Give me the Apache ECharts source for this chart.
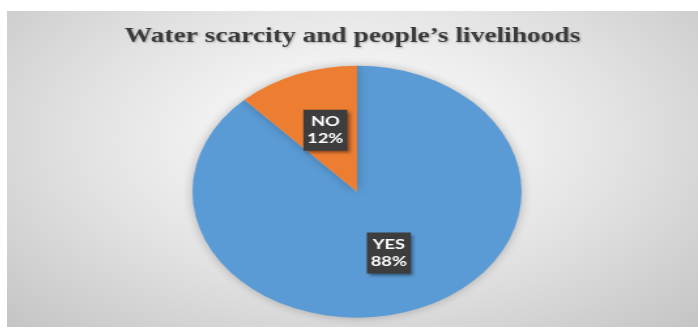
<!DOCTYPE html>
<html>
<head>
<meta charset="utf-8">
<script src="https://cdn.jsdelivr.net/npm/echarts@6/dist/echarts.min.js"></script>
<style>
html,body{margin:0;padding:0;background:#ffffff;width:698px;height:328px;overflow:hidden;}
#bg{position:absolute;left:7px;top:11px;width:691px;height:316px;
background:radial-gradient(ellipse farthest-corner at 50% 40%, #ffffff 0%, #f5f5f5 22%, #e2e2e2 55%, #c4c4c4 100%);}
#chart{position:absolute;left:7px;top:11px;width:529px;height:316px;transform:scaleX(1.3062);transform-origin:0 0;}
</style>
</head>
<body>
<div id="bg"></div>
<div id="chart"></div>
<script>
const titleText = "Water scarcity and people\u2019s livelihoods";
const categories = ["YES", "NO"];
const values = [88, 12];
const colors = ["#5B9BD5", "#ED7D31"];

const chart = echarts.init(document.getElementById('chart'), null, {renderer: 'canvas'});
chart.setOption({
  backgroundColor: 'transparent',
  animation: false,
  title: {
    text: titleText,
    left: 'center',
    top: 10,
    textStyle: {
      fontFamily: 'Liberation Serif',
      fontSize: 21,
      fontWeight: 'bold',
      color: '#3a3a3a',
      textShadowColor: 'rgba(0,0,0,0.25)',
      textShadowBlur: 2,
      textShadowOffsetX: 1,
      textShadowOffsetY: 1
    }
  },
  series: [{
    type: 'pie',
    center: [268, 180.7],
    radius: [0, 126],
    startAngle: 90,
    clockwise: true,
    silent: true,
    itemStyle: {
      borderWidth: 0,
      shadowBlur: 8,
      shadowColor: 'rgba(0,0,0,0.25)'
    },
    label: {
      show: true,
      position: 'inside',
      formatter: p => p.name + '\n' + p.value + '%',
      color: '#ffffff',
      fontFamily: 'Lato',
      fontWeight: 'bold',
      fontSize: 14,
      lineHeight: 17,
      backgroundColor: '#3d3d3d',
      padding: [4, 3, 3, 3],
      shadowColor: 'rgba(0,0,0,0.45)',
      shadowBlur: 3,
      shadowOffsetX: 2,
      shadowOffsetY: 2,
      align: 'center'
    },
    labelLine: {show: false},
    data: categories.map((c, i) => ({name: c, value: values[i], itemStyle: {color: colors[i]}}))
  }]
});
</script>
</body>
</html>
